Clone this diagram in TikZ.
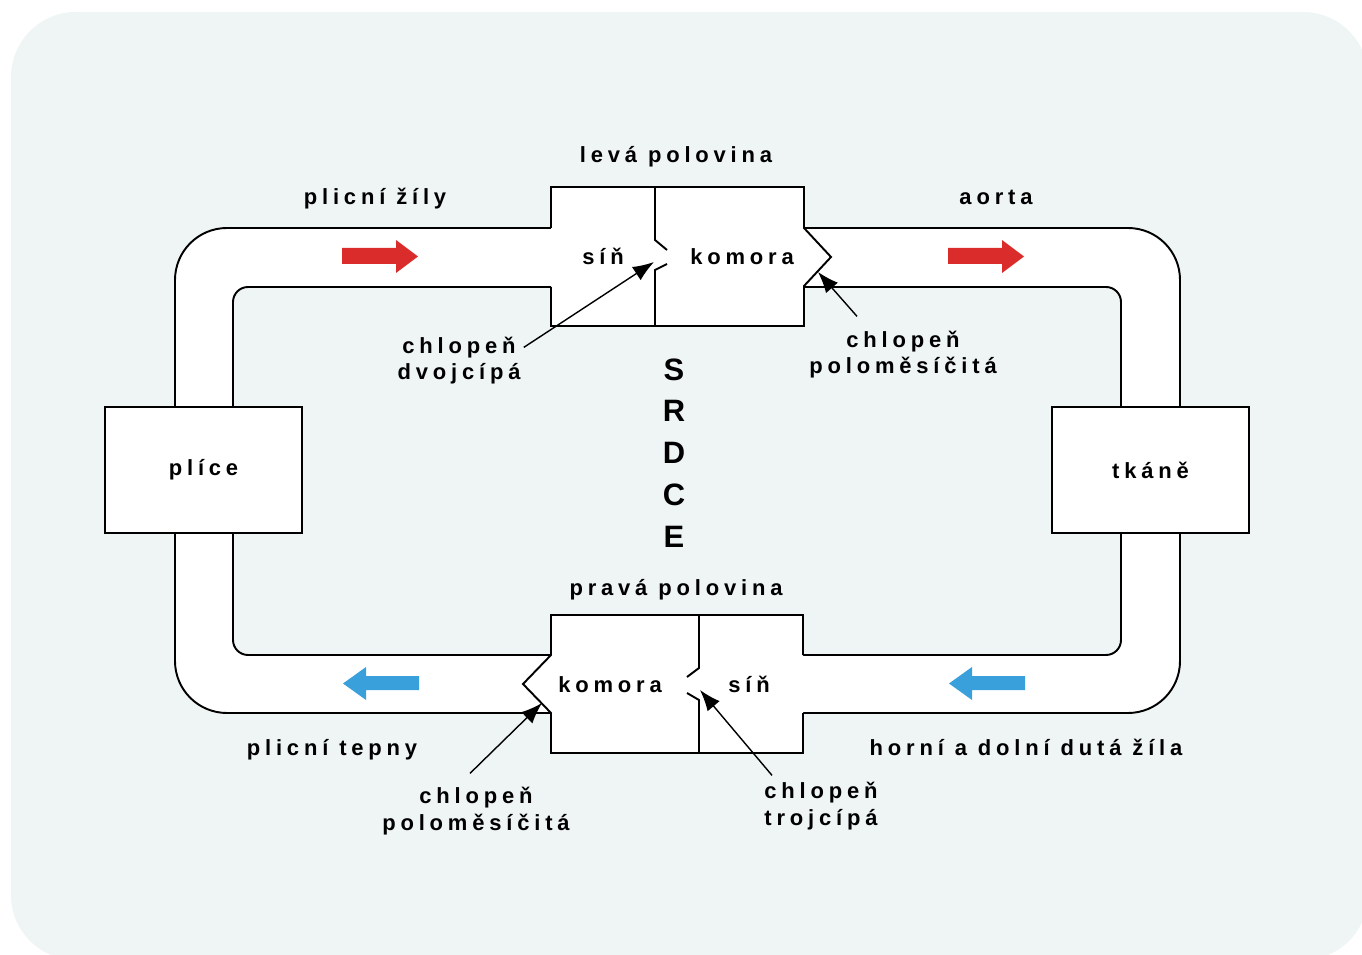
\documentclass[tikz,border=0pt]{standalone}
\usepackage{fontspec}
\newfontfamily\lblfont[LetterSpace=22]{Liberation Sans}
\newfontfamily\bigfont{Liberation Sans}
\usetikzlibrary{arrows.meta,calc}
\definecolor{bgcol}{RGB}{239,244,245}
\definecolor{flowred}{RGB}{218,45,43}
\definecolor{flowblue}{RGB}{58,160,219}
\tikzset{
  lbl/.style={font=\lblfont\bfseries\fontsize{12.5}{15.3}\selectfont,inner sep=0pt,anchor=base,align=center},
  tube/.style={line width=1.1pt},
  wall/.style={line width=1.1pt,fill=white},
  organ/.style={draw,fill=white,line width=1.1pt,minimum width=3.94cm,minimum height=2.52cm,inner sep=0pt,
    font=\lblfont\bfseries\fontsize{12.5}{15.3}\selectfont},
  pointer/.style={-{Latex[length=12pt,width=9pt]},line width=0.8pt},
}
\begin{document}
\begin{tikzpicture}[x=0.02cm,y=-0.02cm]
 \useasboundingbox (0,0) rectangle (1362,955);
 \fill[bgcol,rounded corners=1.3cm] (11,12) rectangle (1368,960);
 % tube
 \fill[white,rounded corners=1.04cm] (175,228) rectangle (1180,713);
 \fill[bgcol,rounded corners=0.3cm] (233,287) rectangle (1121,655);
 \draw[tube,rounded corners=1.04cm] (551,228) -- (175,228) -- (175,407);
 \draw[tube,rounded corners=1.04cm] (175,533) -- (175,713) -- (551,713);
 \draw[tube,rounded corners=1.04cm] (803,713) -- (1180,713) -- (1180,533);
 \draw[tube,rounded corners=1.04cm] (1180,407) -- (1180,228) -- (804,228);
 \draw[tube,rounded corners=0.3cm] (551,287) -- (233,287) -- (233,407);
 \draw[tube,rounded corners=0.3cm] (233,533) -- (233,655) -- (551,655);
 \draw[tube,rounded corners=0.3cm] (803,655) -- (1121,655) -- (1121,533);
 \draw[tube,rounded corners=0.3cm] (1121,407) -- (1121,287) -- (804,287);
 % organs
 \node[organ] (plice) at (203.5,470) {plíce};
 \node[organ] (tkane) at (1150.5,470) {tkáně};
 % heart, left half
 \filldraw[wall] (551,228) -- (551,187) -- (804,187) -- (804,228) -- (831,257) -- (804,286) -- (804,326) -- (551,326) -- (551,287);
 \draw[tube] (655,187) -- (655,240) -- (667,250);
 \draw[tube] (667,264) -- (655,270) -- (655,326);
 % heart, right half
 \filldraw[wall] (803,655) -- (803,615) -- (551,615) -- (551,655) -- (523,684) -- (551,713) -- (551,753) -- (803,753) -- (803,713);
 \draw[tube] (699,615) -- (699,668) -- (687,677);
 \draw[tube] (687,693) -- (699,700) -- (699,753);
 % flow arrows
 \fill[flowred] (342,248) -- (396,248) -- (396,240) -- (418,256.5) -- (396,273) -- (396,264) -- (342,264) -- cycle;
 \fill[flowred] (948,248) -- (1002,248) -- (1002,240) -- (1024,256.5) -- (1002,273) -- (1002,264) -- (948,264) -- cycle;
 \fill[flowblue] (1025,676) -- (972,676) -- (972,667) -- (949,683.5) -- (972,700) -- (972,690) -- (1025,690) -- cycle;
 \fill[flowblue] (419,676) -- (366,676) -- (366,667) -- (343,683.5) -- (366,700) -- (366,690) -- (419,690) -- cycle;
 % texts
 \node[lbl] (levá) at (676,163) {levá polovina};
 \node[lbl] (zily) at (375,205) {plicní žíly};
 \node[lbl] (aorta) at (996,205) {aorta};
 \node[lbl] (lsin) at (603,265) {síň};
 \node[lbl] (lkom) at (742,265) {komora};
 \node[lbl] (dvoj) at (459,380) {chlopeň\\dvojcípá};
 \node[lbl] (polo1) at (903,374) {chlopeň\\poloměsíčitá};
 \node[font=\bigfont\bfseries\fontsize{17.6}{23.8}\selectfont,inner sep=0pt,align=center] (srdce) at (674,453) {S\\R\\D\\C\\E};
 \node[lbl] (prava) at (676,596) {pravá polovina};
 \node[lbl] (pkom) at (610,692) {komora};
 \node[lbl] (psin) at (749,692) {síň};
 \node[lbl] (tepny) at (332,755) {plicní tepny};
 \node[lbl] (duta) at (1026,755) {horní a dolní dutá žíla};
 \node[lbl] (polo2) at (476,830) {chlopeň\\poloměsíčitá};
 \node[lbl] (troj) at (821,825) {chlopeň\\trojcípá};
 % valves
 \coordinate (mitral) at (654,262);
 \coordinate (aortic) at (818,272);
 \coordinate (pulmon) at (542,703);
 \coordinate (tricus) at (700,690);
 \draw[pointer] ($(dvoj.north east)+(3,11)$) -- (mitral);
 \draw[pointer] ($(polo1.north)+(-46,-14)$) -- (aortic);
 \draw[pointer] ($(polo2.north)+(-6,-13)$) -- (pulmon);
 \draw[pointer] ($(troj.north)+(-49,-6)$) -- (tricus);
\end{tikzpicture}
\end{document}
